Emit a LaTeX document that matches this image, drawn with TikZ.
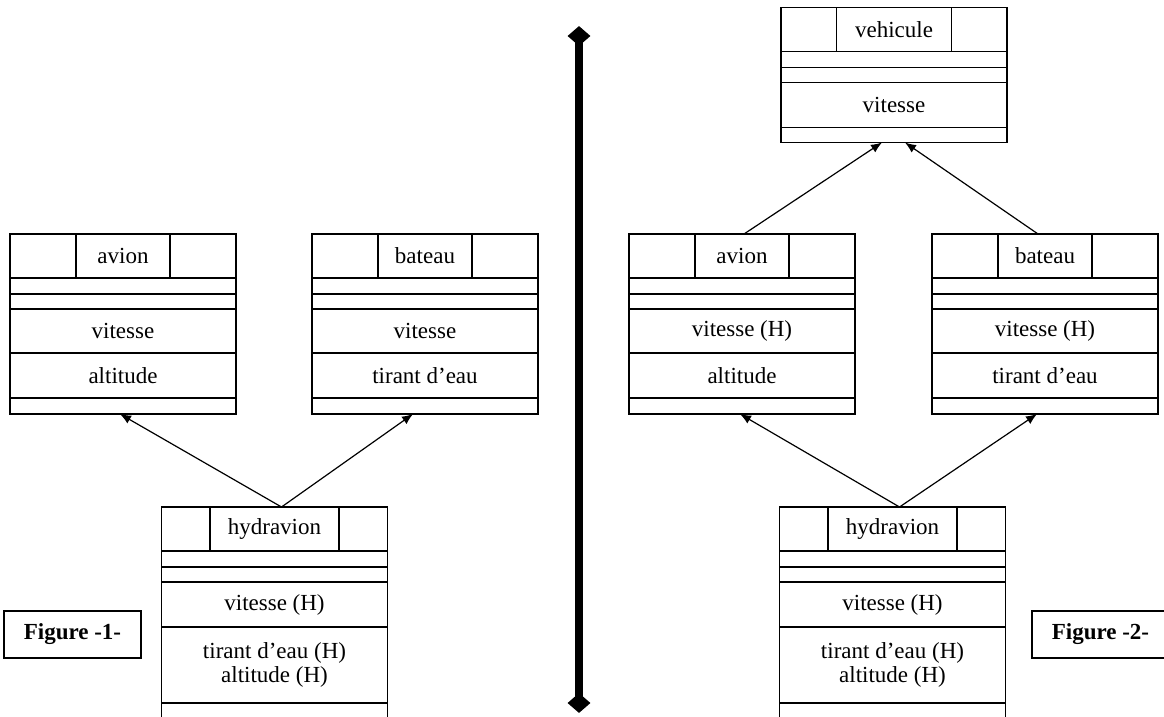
\documentclass[tikz,border=0pt]{standalone}
\usepackage{fontspec}
\setmainfont{Liberation Serif}
\usepackage{tikz}
\usetikzlibrary{arrows.meta,positioning,shapes.geometric}

\tikzset{
  row/.style={draw, line width=1.8pt, minimum width=226pt, inner sep=0pt, outer sep=0pt, align=center},
  titlecell/.style={draw, line width=1.8pt, minimum height=44pt, inner sep=0pt, outer sep=0pt},
  figlabel/.style={draw, line width=1.2pt, font=\fontsize{23pt}{24pt}\selectfont\bfseries, minimum width=137pt, minimum height=47pt},
  inherit/.style={-{Latex[length=11pt,width=9pt]}, line width=1.2pt},
}
% header of a class: name, position, title width, title
\newcommand{\classhead}[4]{%
  \node[row, minimum height=44pt] (#1) at #2 {};
  \node[titlecell, minimum width=#3] (#1t) at (#1) {#4};
  \node[row, minimum height=16pt, below=0pt of #1] (#1a) {};
  \node[row, minimum height=15pt, below=0pt of #1a] (#1b) {};
}

\begin{document}
\begin{tikzpicture}[x=1pt, y=-1pt, font=\fontsize{23pt}{24pt}\selectfont]
  \useasboundingbox (0,0) rectangle (1164,717);

  % figure 1
  \classhead{avionA}{(123,256)}{94pt}{avion}
  \node[row, minimum height=44pt, below=0pt of avionAb] (avionA1) {vitesse};
  \node[row, minimum height=45pt, below=0pt of avionA1] (avionA2) {altitude};
  \node[row, minimum height=16pt, below=0pt of avionA2] (avionA3) {};

  \classhead{bateauA}{(425,256)}{94pt}{bateau}
  \node[row, minimum height=44pt, below=0pt of bateauAb] (bateauA1) {vitesse};
  \node[row, minimum height=45pt, below=0pt of bateauA1] (bateauA2) {tirant d’eau};
  \node[row, minimum height=16pt, below=0pt of bateauA2] (bateauA3) {};

  \classhead{hydraA}{(274.5,529)}{129pt}{hydravion}
  \node[row, minimum height=45pt, below=0pt of hydraAb] (hydraA1) {vitesse (H)};
  \node[row, minimum height=76pt, below=0pt of hydraA1] (hydraA2) {tirant d’eau (H)\\altitude (H)};
  \node[row, minimum height=16pt, below=0pt of hydraA2] (hydraA3) {};

  \draw[inherit] ([xshift=7pt]hydraA.north) -- ([xshift=-3pt]avionA3.south);
  \draw[inherit] ([xshift=7pt]hydraA.north) -- ([xshift=-12pt]bateauA3.south);

  \node[figlabel] (fig1) at (72.5,634.5) {Figure -1-};

  % separator
  \node[diamond, fill, minimum width=23pt, minimum height=20pt, inner sep=0pt] (sepTop) at (579,36) {};
  \node[diamond, fill, minimum width=23pt, minimum height=20pt, inner sep=0pt] (sepBot) at (579,703) {};
  \draw[line width=8pt] (sepTop.center) -- (sepBot.center);

  % figure 2
  \classhead{vehicule}{(894,29.5)}{115pt}{vehicule}
  \node[row, minimum height=45pt, below=0pt of vehiculeb] (vehicule1) {vitesse};
  \node[row, minimum height=15pt, below=0pt of vehicule1] (vehicule2) {};

  \classhead{avionB}{(742,256)}{94pt}{avion}
  \node[row, minimum height=44pt, below=0pt of avionBb] (avionB1) {vitesse (H)};
  \node[row, minimum height=45pt, below=0pt of avionB1] (avionB2) {altitude};
  \node[row, minimum height=16pt, below=0pt of avionB2] (avionB3) {};

  \classhead{bateauB}{(1045,256)}{94pt}{bateau}
  \node[row, minimum height=44pt, below=0pt of bateauBb] (bateauB1) {vitesse (H)};
  \node[row, minimum height=45pt, below=0pt of bateauB1] (bateauB2) {tirant d’eau};
  \node[row, minimum height=16pt, below=0pt of bateauB2] (bateauB3) {};

  \classhead{hydraB}{(892.5,529)}{129pt}{hydravion}
  \node[row, minimum height=45pt, below=0pt of hydraBb] (hydraB1) {vitesse (H)};
  \node[row, minimum height=76pt, below=0pt of hydraB1] (hydraB2) {tirant d’eau (H)\\altitude (H)};
  \node[row, minimum height=16pt, below=0pt of hydraB2] (hydraB3) {};

  \draw[inherit] ([xshift=7pt]hydraB.north) -- ([xshift=-2pt]avionB3.south);
  \draw[inherit] ([xshift=7pt]hydraB.north) -- ([xshift=-8pt]bateauB3.south);
  \draw[inherit] ([xshift=2pt]avionB.north) -- ([xshift=-12pt]vehicule2.south);
  \draw[inherit] ([xshift=-7pt]bateauB.north) -- ([xshift=11pt]vehicule2.south);

  \node[figlabel] (fig2) at (1100.5,634.5) {Figure -2-};
\end{tikzpicture}
\end{document}
